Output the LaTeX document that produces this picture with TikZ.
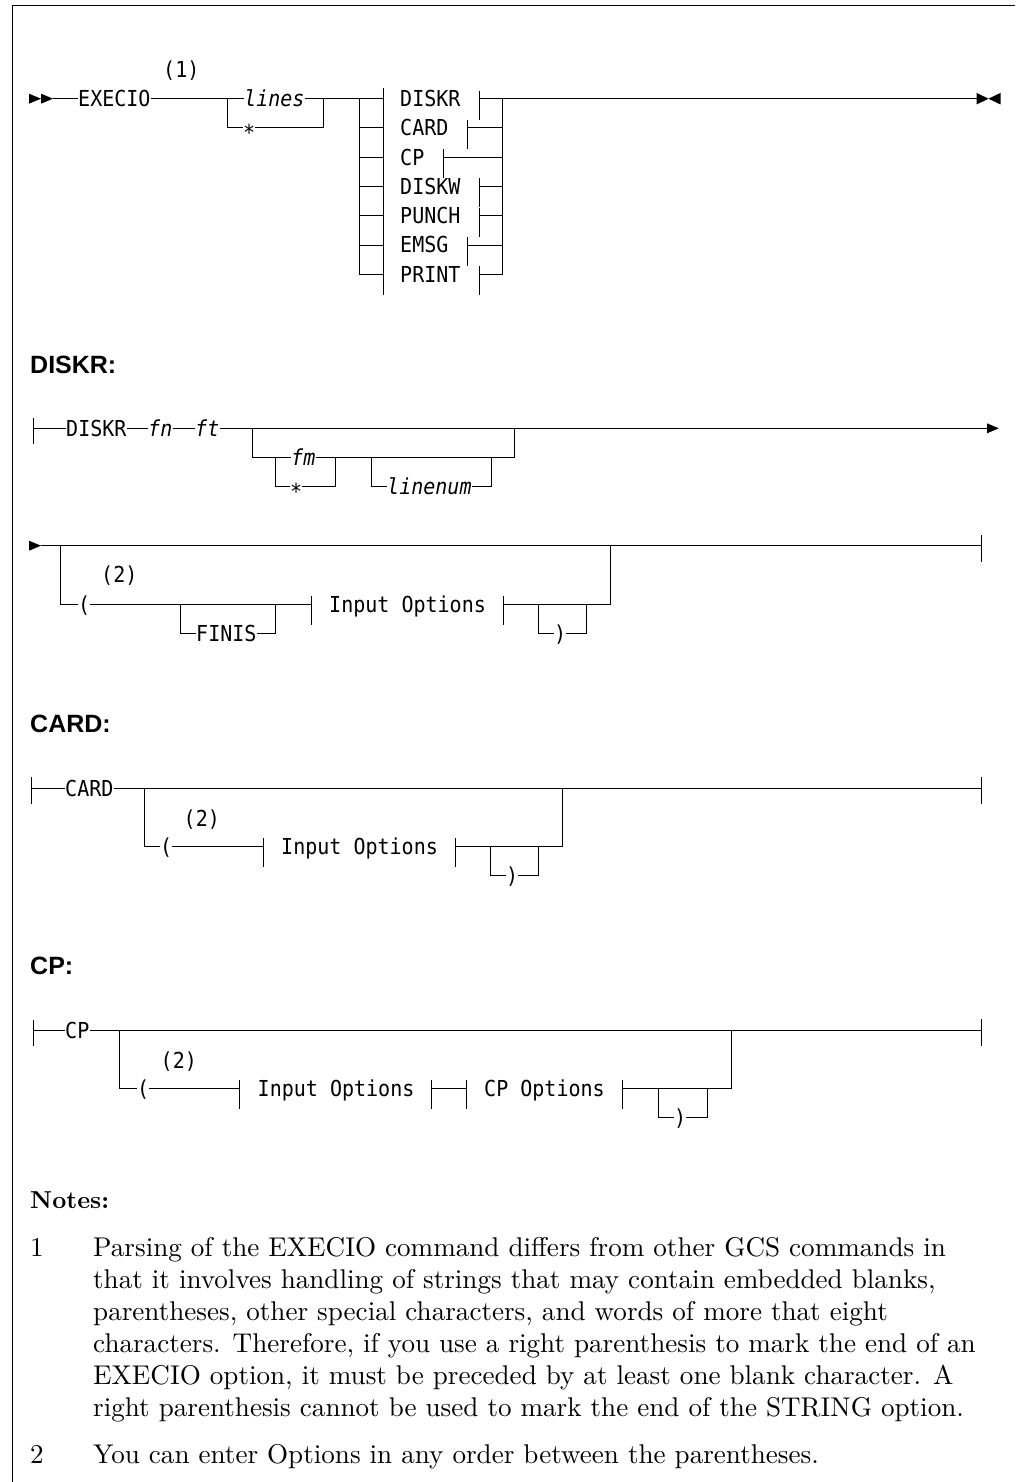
\documentclass[tikz,border=0pt]{standalone}
\usepackage{fontspec}
\newfontfamily\dmono[FakeStretch=0.91]{DejaVu Sans Mono}
\newfontfamily\hsans{Liberation Sans}
\newfontfamily\noterm{lmroman10-regular}[Extension=.otf,BoldFont=lmroman10-bold]
\tikzset{
  rail/.style={line width=0.9pt},
  tk/.style={line width=0.9pt},
  mono/.style={font=\dmono\fontsize{22}{26}\selectfont, inner sep=0pt, anchor=base west},
  monoi/.style={font=\dmono\itshape\fontsize{22}{26}\selectfont, inner sep=0pt, anchor=base west},
  hdr/.style={font=\hsans\bfseries\fontsize{25}{30}\selectfont, inner sep=0pt, anchor=base west},
  notehdr/.style={font=\noterm\bfseries\fontsize{24.5}{30}\selectfont, inner sep=0pt, anchor=base west},
  note/.style={font=\noterm\fontsize{27.1}{32}\selectfont, inner sep=0pt, anchor=base west},
  arr/.style={fill=black, draw=none},
}
\begin{document}
\begin{tikzpicture}[x=1pt,y=-1pt]
\useasboundingbox (0,0) rectangle (1015,1482);
% frame
\coordinate (fr0) at (1015,6);
\coordinate (fr1) at (12.7,6);
\coordinate (fr2) at (12.7,1482);
\draw[line width=1pt] (fr0) -- (fr1) -- (fr2);

% ================= main diagram =================
\fill[arr] (29,93.7) -- (41,98.7) -- (29,103.7) -- cycle;
\fill[arr] (41,93.7) -- (53,98.7) -- (41,103.7) -- cycle;
\coordinate (m1) at (53,98.7);
\node[mono] (execio) at (78,106.7) {EXECIO};
\node[mono] (ref1) at (163,78) {(1)};
\coordinate (ch1a) at (227,98.7);
\coordinate (ch1b) at (227,127.95);
\coordinate (ch1c) at (323,98.7);
\coordinate (ch1d) at (323,127.95);
\node[monoi] (lines) at (244,106.7) {lines};
\node[mono] (ast1) at (243,140.3) {*};
\draw[rail] (m1) -- (execio.west |- m1);
\draw[rail] (execio.east |- m1) -- (ch1a) -- (lines.west |- ch1a);
\draw[rail] (lines.east |- ch1a) -- (ch1c) -- (ch1d) -- (ast1.east |- ch1d);
\draw[rail] (ch1a) -- (ch1b) -- (ast1.west |- ch1b);
\coordinate (ch2a) at (359,98.7);
\coordinate (ch2b) at (359,274.2);
\draw[rail] (ch1c) -- (ch2a) -- (ch2b);
\coordinate (tk0) at (383,88);
\coordinate (tk1) at (383,295);
\draw[tk] (tk0) -- (tk1);
\coordinate (ch2c) at (502.5,98.7);
\coordinate (ch2d) at (502.5,274.2);
\draw[rail] (ch2c) -- (ch2d);
\foreach \lab/\tx [count=\k from 0] in {DISKR/479,CARD/467,CP/443,DISKW/479,PUNCH/479,EMSG/467,PRINT/479}{
  \pgfmathsetmacro\yy{98.7+29.25*\k}
  \coordinate (ol\k) at (359,\yy);
  \coordinate (oi\k) at (383,\yy);
  \coordinate (ot\k) at (\tx,\yy);
  \coordinate (or\k) at (502.5,\yy);
  \node[mono] (opt\k) at (400,\yy+8) {\lab};
  \draw[rail] (ol\k) -- (oi\k);
  \draw[rail] (ot\k) -- (or\k);
  \draw[tk] ([yshift=8pt]ot\k) -- ([yshift=-21pt]ot\k);
}
\coordinate (mend) at (976.6,98.7);
\draw[rail] (ch2c) -- (mend);
\fill[arr] (976.6,92.9) -- (988.5,98.7) -- (976.6,104.5) -- cycle;
\fill[arr] (1000.5,92.9) -- (988.5,98.7) -- (1000.5,104.5) -- cycle;

% ================= DISKR =================
\node[hdr] (hdiskr) at (30,373.3) {DISKR:};
\coordinate (d0) at (33,428.3);
\draw[tk] ([yshift=10pt]d0) -- ([yshift=-16pt]d0);
\node[mono] (dk) at (66,436.3) {DISKR};
\node[monoi] (fn) at (148,436.3) {fn};
\node[monoi] (ft) at (195,436.3) {ft};
\coordinate (d1) at (252,428.3);
\coordinate (d1b) at (252,457.7);
\coordinate (d2) at (514.8,428.3);
\coordinate (d2b) at (514.8,457.7);
\coordinate (darr) at (987,428.3);
\draw[rail] (d0) -- (dk.west |- d0);
\draw[rail] (dk.east |- d0) -- (fn.west |- d0);
\draw[rail] (fn.east |- d0) -- (ft.west |- d0);
\draw[rail] (ft.east |- d0) -- (d1) -- (d2) -- (darr);
\fill[arr] (987,423.3) -- (998.8,428.3) -- (987,433.3) -- cycle;
\coordinate (f1) at (275,457.7);
\coordinate (f1b) at (275,486.7);
\coordinate (f2) at (335,457.7);
\coordinate (f2b) at (335,486.7);
\node[monoi] (fm) at (291,465.7) {fm};
\node[mono] (ast2) at (290,499.1) {*};
\draw[rail] (d1) -- (d1b) -- (f1) -- (fm.west |- f1);
\draw[rail] (fm.east |- f1) -- (f2) -- (d2b) -- (d2);
\draw[rail] (f1) -- (f1b) -- (ast2.west |- f1b);
\draw[rail] (ast2.east |- f1b) -- (f2b) -- (f2);
\coordinate (l1) at (371,457.7);
\coordinate (l1b) at (371,486.7);
\coordinate (l2) at (491,457.7);
\coordinate (l2b) at (491,486.7);
\node[monoi] (lnum) at (387,494.7) {linenum};
\draw[rail] (l1) -- (l1b) -- (lnum.west |- l1b);
\draw[rail] (lnum.east |- l1b) -- (l2b) -- (l2);

% DISKR line 2
\coordinate (e0) at (41,545.7);
\fill[arr] (29,540.7) -- (41,545.7) -- (29,550.7) -- cycle;
\coordinate (e1) at (60,545.7);
\coordinate (e1b) at (60,604.3);
\node[mono] (ep) at (78,612.3) {(};
\node[mono] (eref) at (101,582.3) {(2)};
\coordinate (fi1) at (180,604.3);
\coordinate (fi1b) at (180,633.3);
\coordinate (fi2) at (275,604.3);
\coordinate (fi2b) at (275,633.3);
\node[mono] (finis) at (196,641.3) {FINIS};
\coordinate (io1) at (311,604.3);
\node[mono] (io) at (329,612.3) {Input Options};
\coordinate (io2) at (503,604.3);
\coordinate (rq1) at (538.7,604.3);
\coordinate (rq1b) at (538.7,633.3);
\coordinate (rq2) at (586.5,604.3);
\coordinate (rq2b) at (586.5,633.3);
\node[mono] (rp1) at (554,641.3) {)};
\coordinate (j1) at (610.4,604.3);
\coordinate (j1t) at (610.4,545.7);
\coordinate (eend) at (981.7,545.7);
\draw[rail] (e0) -- (eend);
\draw[tk] ([yshift=11pt]eend) -- ([yshift=-16pt]eend);
\draw[rail] (e1) -- (e1b) -- (ep.west |- e1b);
\draw[rail] (ep.east |- e1b) -- (io1);
\draw[tk] ([yshift=8pt]io1) -- ([yshift=-21pt]io1);
\draw[tk] ([yshift=8pt]io2) -- ([yshift=-21pt]io2);
\draw[rail] (fi1) -- (fi1b) -- (finis.west |- fi1b);
\draw[rail] (finis.east |- fi1b) -- (fi2b) -- (fi2);
\draw[rail] (io2) -- (j1) -- (j1t);
\draw[rail] (rq1) -- (rq1b) -- (rp1.west |- rq1b);
\draw[rail] (rp1.east |- rq1b) -- (rq2b) -- (rq2);

% ================= CARD =================
\node[hdr] (hcard) at (30,732) {CARD:};
\coordinate (c0) at (31.6,788.3);
\draw[tk] ([yshift=11pt]c0) -- ([yshift=-16pt]c0);
\node[mono] (cardt) at (65,796.3) {CARD};
\coordinate (c1) at (144,788.3);
\coordinate (c1b) at (144,846);
\coordinate (cend) at (981.7,788.3);
\draw[rail] (c0) -- (cardt.west |- c0);
\draw[rail] (cardt.east |- c0) -- (cend);
\draw[tk] ([yshift=11pt]cend) -- ([yshift=-16pt]cend);
\node[mono] (cpar) at (160,854) {(};
\node[mono] (cref) at (183.5,826.3) {(2)};
\coordinate (cio1) at (263,846);
\node[mono] (cio) at (281,854) {Input Options};
\coordinate (cio2) at (455,846);
\coordinate (cq1) at (490,846);
\coordinate (cq1b) at (490,875);
\coordinate (cq2) at (538,846);
\coordinate (cq2b) at (538,875);
\node[mono] (crp) at (506,883) {)};
\coordinate (cj) at (562,846);
\coordinate (cjt) at (562,788.3);
\draw[rail] (c1) -- (c1b) -- (cpar.west |- c1b);
\draw[rail] (cpar.east |- c1b) -- (cio1);
\draw[tk] ([yshift=8pt]cio1) -- ([yshift=-21pt]cio1);
\draw[tk] ([yshift=8pt]cio2) -- ([yshift=-21pt]cio2);
\draw[rail] (cio2) -- (cj) -- (cjt);
\draw[rail] (cq1) -- (cq1b) -- (crp.west |- cq1b);
\draw[rail] (crp.east |- cq1b) -- (cq2b) -- (cq2);

% ================= CP =================
\node[hdr] (hcp) at (30,974.5) {CP:};
\coordinate (p0) at (33,1030);
\draw[tk] ([yshift=10pt]p0) -- ([yshift=-16pt]p0);
\node[mono] (cpt) at (65,1038) {CP};
\coordinate (p1) at (119,1030);
\coordinate (p1b) at (119,1088.3);
\coordinate (pend) at (981.7,1030);
\draw[rail] (p0) -- (cpt.west |- p0);
\draw[rail] (cpt.east |- p0) -- (pend);
\draw[tk] ([yshift=11pt]pend) -- ([yshift=-16pt]pend);
\node[mono] (ppar) at (137,1096.3) {(};
\node[mono] (pref) at (160.5,1068) {(2)};
\coordinate (pio1) at (239.5,1088.3);
\node[mono] (pio) at (257.5,1096.3) {Input Options};
\coordinate (pio2) at (431.5,1088.3);
\coordinate (pco1) at (466,1088.3);
\node[mono] (pco) at (484,1096.3) {CP Options};
\coordinate (pco2) at (622,1088.3);
\coordinate (pq1) at (658,1088.3);
\coordinate (pq1b) at (658,1117);
\coordinate (pq2) at (707,1088.3);
\coordinate (pq2b) at (707,1117);
\node[mono] (prp) at (674,1125) {)};
\coordinate (pj) at (731,1088.3);
\coordinate (pjt) at (731,1030);
\draw[rail] (p1) -- (p1b) -- (ppar.west |- p1b);
\draw[rail] (ppar.east |- p1b) -- (pio1);
\draw[tk] ([yshift=8pt]pio1) -- ([yshift=-21pt]pio1);
\draw[tk] ([yshift=8pt]pio2) -- ([yshift=-21pt]pio2);
\draw[rail] (pio2) -- (pco1);
\draw[tk] ([yshift=8pt]pco1) -- ([yshift=-21pt]pco1);
\draw[tk] ([yshift=8pt]pco2) -- ([yshift=-21pt]pco2);
\draw[rail] (pco2) -- (pj) -- (pjt);
\draw[rail] (pq1) -- (pq1b) -- (prp.west |- pq1b);
\draw[rail] (prp.east |- pq1b) -- (pq2b) -- (pq2);

% ================= Notes =================
\node[notehdr] (nh) at (30,1208) {Notes:};
\node[note] (n1num) at (30,1256.7) {1};
\node[note] (n1a) at (93,1256.7) {Parsing of the EXECIO command differs from other GCS commands in};
\node[note] (n1b) at (93,1288.7) {that it involves handling of strings that may contain embedded blanks,};
\node[note] (n1c) at (93,1320.7) {parentheses, other special characters, and words of more that eight};
\node[note] (n1d) at (93,1352.7) {characters. Therefore, if you use a right parenthesis to mark the end of an};
\node[note] (n1e) at (93,1384.7) {EXECIO option, it must be preceded by at least one blank character. A};
\node[note] (n1f) at (93,1416.7) {right parenthesis cannot be used to mark the end of the STRING option.};
\node[note] (n2num) at (30,1463.3) {2};
\node[note] (n2a) at (93,1463.3) {You can enter Options in any order between the parentheses.};
\end{tikzpicture}
\end{document}
